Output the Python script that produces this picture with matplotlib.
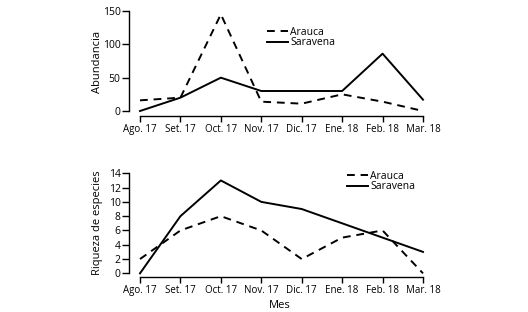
import matplotlib
matplotlib.use("Agg")
import matplotlib.pyplot as plt

months = ["Ago. 17", "Set. 17", "Oct. 17", "Nov. 17", "Dic. 17", "Ene. 18", "Feb. 18", "Mar. 18"]
abund_arauca = [16, 20, 145, 14, 11, 25, 14, 0]
abund_saravena = [0, 20, 50, 30, 30, 30, 86, 17]
riq_arauca = [2, 6, 8, 6, 2, 5, 6, 0]
riq_saravena = [0, 8, 13, 10, 9, 7, 5, 3]

plt.rcParams['font.family'] = ['Open Sans', 'DejaVu Sans']
W, H = 528, 312
fig = plt.figure(figsize=(W/100, H/100), dpi=100)

def ax_at(l, t, r, b):
    return fig.add_axes([l/W, 1 - b/H, (r-l)/W, (b-t)/H])

x = list(range(len(months)))
pxu = (423 - 140) / 7
xl = (-(140-129)/pxu, 7 + (430-423)/pxu)

def style(ax, ymax, yticks):
    for s in ['top', 'right']:
        ax.spines[s].set_visible(False)
    ax.spines['left'].set_bounds(0, ymax)
    ax.spines['bottom'].set_bounds(0, 7)
    ax.set_xlim(*xl)
    ax.set_xticks(x)
    ax.set_xticklabels(months)
    ax.set_yticks(yticks)
    ax.tick_params(axis='x', length=4, width=1, labelsize=7, pad=2, colors='black')
    ax.tick_params(axis='y', length=5, width=1, labelsize=7.5, pad=1, colors='black')
    for s in ['left', 'bottom']:
        ax.spines[s].set_linewidth(1)

def legend(ax, lx, ty):
    ax.legend(loc='upper left', bbox_to_anchor=(lx/W, 1 - ty/H), bbox_transform=fig.transFigure,
              frameon=False, fontsize=7.5, handlelength=2.0, handletextpad=0.25, labelspacing=-0.05,
              borderpad=0, borderaxespad=0)

ax1 = ax_at(129, 11, 430, 116)
ax1.plot(x, abund_arauca, color='black', lw=1.4, ls=(0, (4, 3)), label='Arauca', clip_on=False)
ax1.plot(x, abund_saravena, color='black', lw=1.4, label='Saravena', clip_on=False)
ax1.set_ylim(-7.5, 150)
style(ax1, 150, [0, 50, 100, 150])
ax1.set_ylabel('Abundancia', fontsize=8, va='center')
ax1.yaxis.set_label_coords(-0.103, 0.514)
legend(ax1, 267, 27)

ax2 = ax_at(129, 173.3, 430, 276.7)
ax2.plot(x, riq_arauca, color='black', lw=1.4, ls=(0, (4, 3)), label='Arauca', clip_on=False)
ax2.plot(x, riq_saravena, color='black', lw=1.4, label='Saravena', clip_on=False)
ax2.set_ylim(-0.47, 14)
style(ax2, 14, [0, 2, 4, 6, 8, 10, 12, 14])
ax2.set_ylabel('Riqueza de especies', fontsize=8, va='center')
ax2.yaxis.set_label_coords(-0.103, 0.52)
ax2.set_xlabel('Mes', fontsize=8, va='center')
ax2.xaxis.set_label_coords(0.5, -0.275)
legend(ax2, 347, 171)

fig.savefig('out.png', dpi=100)
